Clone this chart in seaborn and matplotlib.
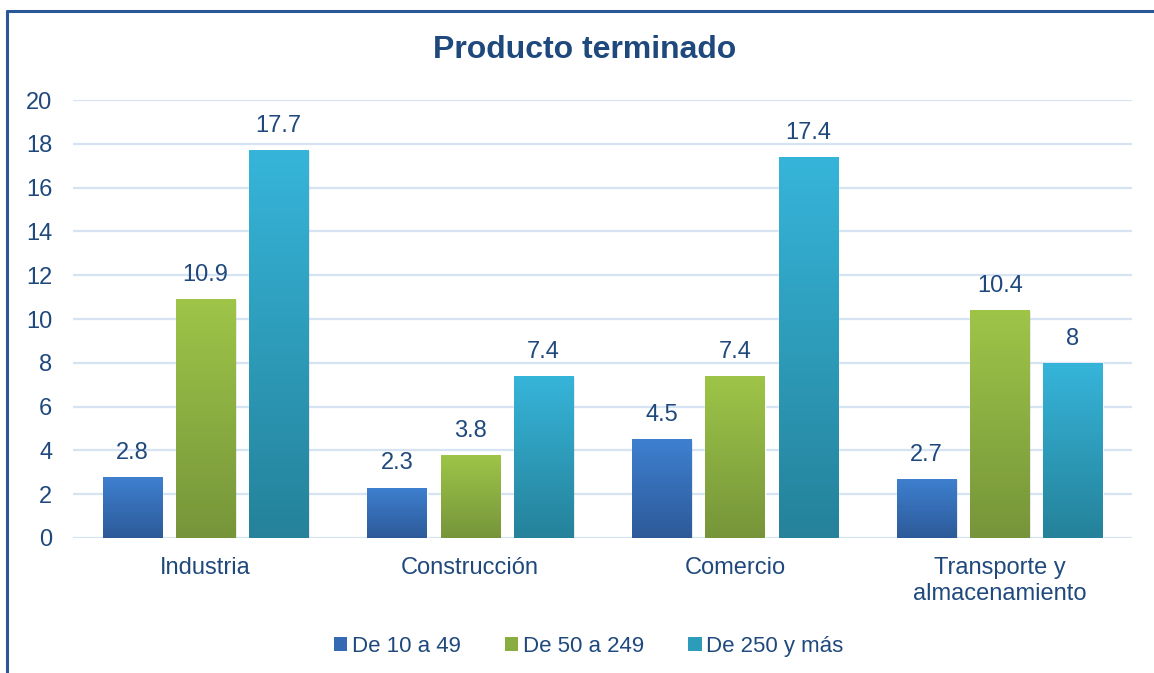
import numpy as np
import pandas as pd
import matplotlib
matplotlib.use("Agg")
import matplotlib.pyplot as plt
from matplotlib.lines import Line2D
from matplotlib.patches import Rectangle
from matplotlib.colors import LinearSegmentedColormap
import seaborn as sns

categories = ["Industria", "Construcción", "Comercio", "Transporte y\nalmacenamiento"]
series_names = ["De 10 a 49", "De 50 a 249", "De 250 y más"]
s_10_49 = [2.8, 2.3, 4.5, 2.7]
s_50_249 = [10.9, 3.8, 7.4, 10.4]
s_250_mas = [17.7, 7.4, 17.4, 8.0]
y_ticks = [0, 2, 4, 6, 8, 10, 12, 14, 16, 18, 20]
title = "Producto terminado"

grad_top = ["#3e80d0", "#9ec548", "#36b5da"]
grad_bot = ["#2d5a99", "#76953a", "#25829a"]
mid_cols = ["#3569b4", "#89ad41", "#2d9cba"]
text_col = "#1f497d"
grid_col = "#d6e3f3"

df = pd.DataFrame({
    "cat": categories * 3,
    "serie": [series_names[0]] * 4 + [series_names[1]] * 4 + [series_names[2]] * 4,
    "val": s_10_49 + s_50_249 + s_250_mas,
})

sns.set_theme(style="white")
plt.rcParams["font.family"] = ["Liberation Sans", "DejaVu Sans"]

fig = plt.figure(figsize=(11.54, 6.73), dpi=100)
ax = fig.add_axes([0.0633, 0.2006, 0.9177, 0.6508])

sns.barplot(data=df, x="cat", y="val", hue="serie", order=categories,
            hue_order=series_names, palette=mid_cols, width=0.83, gap=0.19,
            ax=ax, legend=False, errorbar=None, saturation=1)

ax.set_ylim(0, 20)
ax.set_xlim(-0.5, len(categories) - 0.5)
ax.set_yticks(y_ticks)
ax.set_yticklabels([str(t) for t in y_ticks])
ax.set_xlabel("")
ax.set_ylabel("")
for s in ax.spines.values():
    s.set_visible(False)
ax.yaxis.grid(True, color=grid_col, linewidth=1.6)
ax.set_axisbelow(True)
ax.tick_params(axis="y", length=0, pad=15, labelsize=17, labelcolor=text_col)
ax.tick_params(axis="x", length=0, pad=14, labelsize=17, labelcolor=text_col)
for lbl in ax.get_xticklabels():
    lbl.set_linespacing(1.2)

# gradient fills + labels
for i, cont in enumerate(ax.containers):
    cmap = LinearSegmentedColormap.from_list(f"g{i}", [grad_bot[i], grad_top[i]])
    vals = [s_10_49, s_50_249, s_250_mas][i]
    for bar, v in zip(cont, vals):
        x0, w, h = bar.get_x(), bar.get_width(), bar.get_height()
        sh = Rectangle((x0 + 0.006, -0.05), w, h, facecolor="#000000", alpha=0.10,
                       edgecolor="none", zorder=1.5)
        ax.add_patch(sh)
        grad = np.linspace(0, 1, 256).reshape(-1, 1)
        im = ax.imshow(grad, extent=[x0, x0 + w, 0, h], origin="lower", cmap=cmap,
                       aspect="auto", zorder=2.5)
        im.set_clip_path(bar)
        bar.set_zorder(2)
        lab = f"{v:g}"
        ax.text(x0 + w / 2, h + 0.6, lab, ha="center", va="bottom",
                fontsize=17, color=text_col, zorder=4)

ax.set_xlim(-0.5, len(categories) - 0.5)
ax.set_ylim(0, 20)

fig.text(0.507, 0.925, title, ha="center", va="center", fontsize=23,
         fontweight="bold", color=text_col)

handles = [Rectangle((0, 0), 1, 1, facecolor=c, edgecolor="none") for c in mid_cols]
leg = fig.legend(handles, series_names, loc="center", bbox_to_anchor=(0.510, 0.040),
                 ncol=3, frameon=False, fontsize=16, handlelength=0.6,
                 handleheight=0.6, handletextpad=0.2, columnspacing=2.0)
for t in leg.get_texts():
    t.set_color(text_col)

# outer frame (top and left visible)
fig.add_artist(Line2D([7 / 1154, 1.0], [1 - 11 / 673, 1 - 11 / 673],
                      color="#2c5797", linewidth=2.2, transform=fig.transFigure))
fig.add_artist(Line2D([7 / 1154, 7 / 1154], [0.0, 1 - 11 / 673],
                      color="#2c5797", linewidth=2.2, transform=fig.transFigure))

fig.savefig("out.png", dpi=100, facecolor="white")
